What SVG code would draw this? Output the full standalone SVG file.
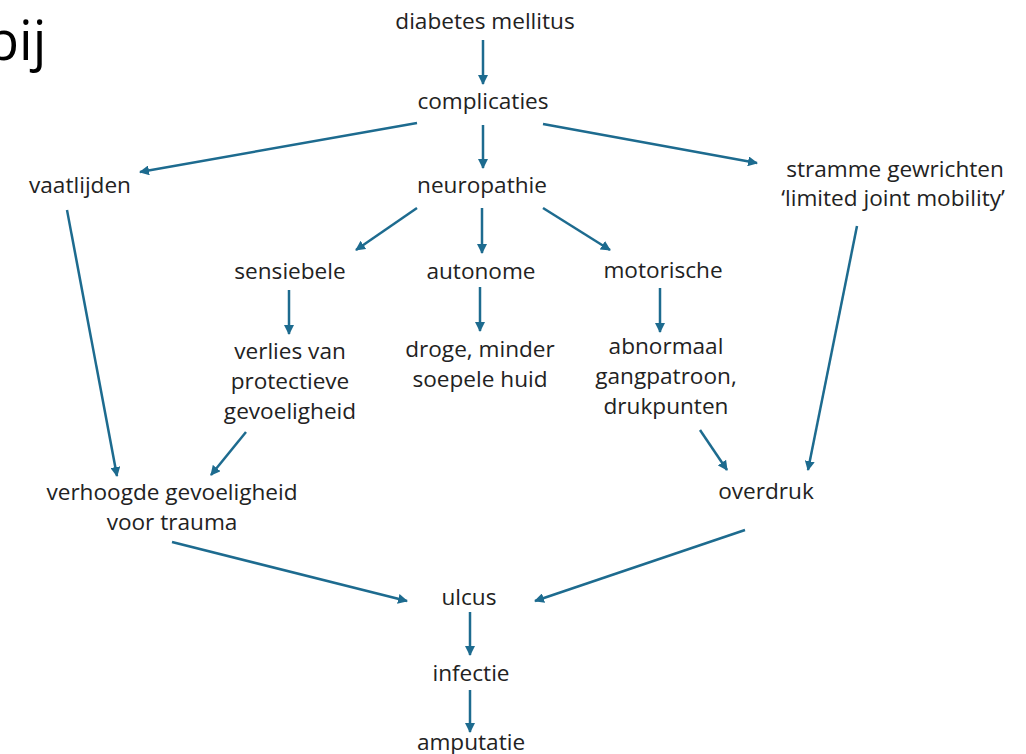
<svg xmlns="http://www.w3.org/2000/svg" width="1026" height="754" viewBox="0 0 1026 754">
<style>
text{font-family:"Open Sans","Liberation Sans",sans-serif;font-size:22.6px;fill:#222;text-anchor:middle}
.big{font-size:54px;text-anchor:start;fill:#000}
.c line{stroke:#1d6b8f;stroke-width:2.5;marker-end:url(#ah)}
</style>
<defs>
<marker id="ah" viewBox="0 0 10 10" refX="9" refY="5" markerWidth="4" markerHeight="4" orient="auto" markerUnits="strokeWidth">
<path d="M0,0 L10,5 L0,10 z" fill="#1d6b8f"/>
</marker>
</defs>
<rect width="1026" height="754" fill="#fff"/>
<text class="big" x="-14" y="60">bij</text>
<g class="c" id="connectors">
<line x1="483" y1="40" x2="483" y2="84"/>
<line x1="417" y1="123" x2="140" y2="172"/>
<line x1="483" y1="125" x2="483" y2="168"/>
<line x1="543" y1="124" x2="757" y2="163"/>
<line x1="417" y1="208" x2="356" y2="250"/>
<line x1="482" y1="208" x2="482" y2="253"/>
<line x1="543" y1="208" x2="610" y2="250"/>
<line x1="289" y1="290" x2="289" y2="334"/>
<line x1="480" y1="287" x2="480" y2="331"/>
<line x1="660" y1="288" x2="660" y2="332"/>
<line x1="67" y1="210" x2="117" y2="476"/>
<line x1="246" y1="432" x2="211" y2="475"/>
<line x1="700" y1="430" x2="727" y2="470"/>
<line x1="857" y1="226" x2="808" y2="470"/>
<line x1="172" y1="542" x2="407" y2="601"/>
<line x1="745" y1="530" x2="535" y2="601"/>
<line x1="470" y1="612" x2="470" y2="655"/>
<line x1="470" y1="690" x2="470" y2="732"/>
</g>
<g id="diabetes"><text x="485" y="29">diabetes mellitus</text></g>
<g id="complicaties"><text x="483" y="109">complicaties</text></g>
<g id="vaatlijden"><text x="80" y="193">vaatlijden</text></g>
<g id="neuropathie"><text x="482" y="193">neuropathie</text></g>
<g id="stramme"><text x="895" y="177">stramme gewrichten</text><text x="893" y="206">‘limited joint mobility’</text></g>
<g id="sensiebele"><text x="290" y="279">sensiebele</text></g>
<g id="autonome"><text x="481" y="279">autonome</text></g>
<g id="motorische"><text x="663" y="278">motorische</text></g>
<g id="verlies"><text x="290" y="359">verlies van</text><text x="290" y="389">protectieve</text><text x="290" y="419">gevoeligheid</text></g>
<g id="droge"><text x="480" y="357">droge, minder</text><text x="480" y="387">soepele huid</text></g>
<g id="abnormaal"><text x="666" y="354">abnormaal</text><text x="666" y="384">gangpatroon,</text><text x="666" y="414">drukpunten</text></g>
<g id="verhoogde"><text x="172" y="500">verhoogde gevoeligheid</text><text x="172" y="530">voor trauma</text></g>
<g id="overdruk"><text x="766" y="499">overdruk</text></g>
<g id="ulcus"><text x="469" y="605">ulcus</text></g>
<g id="infectie"><text x="471" y="681">infectie</text></g>
<g id="amputatie"><text x="471" y="750">amputatie</text></g>
</svg>
